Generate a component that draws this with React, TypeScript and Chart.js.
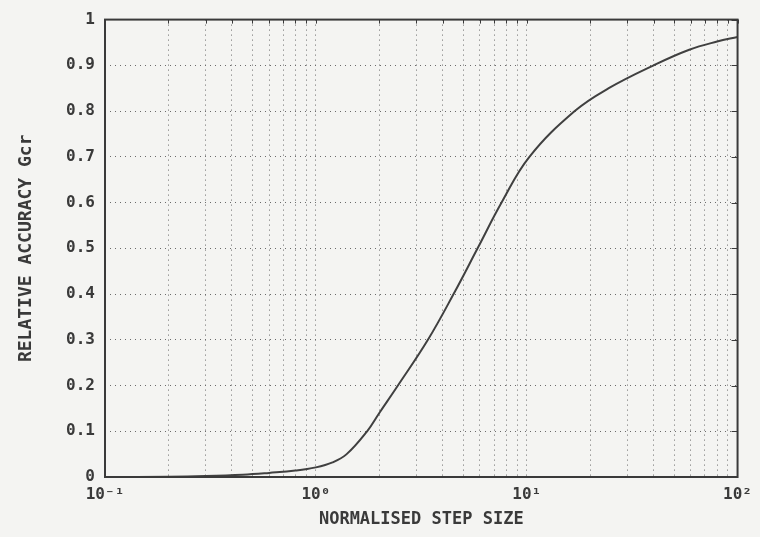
import React, { useEffect, useRef } from "react";
import { Chart, registerables } from "chart.js";

Chart.register(...registerables);

// Normalised step size (log axis) and the relative accuracy reached there
const stepSizes = [0.1, 0.2, 0.3, 0.45, 0.6, 0.8, 1.0, 1.2, 1.4, 1.75, 2.0, 2.45, 3.4, 4.5, 5.85, 7.6, 10.3, 16.9, 24.5, 40.0, 59.0, 80.0, 100.0];
const accuracy = [0.0, 0.0005, 0.002, 0.005, 0.009, 0.014, 0.021, 0.032, 0.05, 0.1, 0.14, 0.2, 0.3, 0.4, 0.5, 0.6, 0.7, 0.8, 0.85, 0.9, 0.934, 0.952, 0.962];

// Axis ticks
const decadeValues = [0.1, 1, 10, 100];
const decadeLabels = ["10\u207B\u00B9", "10\u2070", "10\u00B9", "10\u00B2"];
const minorMultiples = [1, 2, 3, 4, 5, 6, 7, 8, 9];
const yTickLabels = ["0", "0.1", "0.2", "0.3", "0.4", "0.5", "0.6", "0.7", "0.8", "0.9", "1"];

const INK = "#3a3a3a";
const GRID = "#6a6a6a";
const FONT = "'DejaVu Sans Mono', monospace";

const xGridValues: number[] = [];
decadeValues.forEach((d, i) => {
  if (i === decadeValues.length - 1) {
    xGridValues.push(d);
  } else {
    minorMultiples.forEach((m) => xGridValues.push(+(d * m).toPrecision(6)));
  }
});

const frame = {
  id: "frame",
  afterDraw(chart: any) {
    const { ctx, chartArea } = chart;
    const xs = chart.scales.x;
    const ys = chart.scales.y;
    ctx.save();
    ctx.strokeStyle = INK;
    ctx.lineWidth = 1;
    // small inward ticks along the top and right edges
    xGridValues.forEach((v) => {
      const px = Math.round(xs.getPixelForValue(v)) + 0.5;
      ctx.beginPath();
      ctx.moveTo(px, chartArea.top);
      ctx.lineTo(px, chartArea.top + 4);
      ctx.stroke();
    });
    yTickLabels.forEach((_, i) => {
      const py = Math.round(ys.getPixelForValue(i / 10)) + 0.5;
      ctx.beginPath();
      ctx.moveTo(chartArea.right, py);
      ctx.lineTo(chartArea.right - 6, py);
      ctx.stroke();
    });
    ctx.lineWidth = 2;
    ctx.strokeRect(chartArea.left, chartArea.top, chartArea.right - chartArea.left, chartArea.bottom - chartArea.top);
    ctx.restore();
  },
};

export default function App() {
  const ref = useRef<HTMLCanvasElement | null>(null);

  useEffect(() => {
    if (!ref.current) return;
    const chart = new Chart(ref.current, {
      type: "line",
      data: {
        datasets: [
          {
            data: stepSizes.map((x, i) => ({ x, y: accuracy[i] })),
            borderColor: "#404040",
            borderWidth: 2,
            pointRadius: 0,
            tension: 0.4,
            fill: false,
          },
        ],
      },
      options: {
        responsive: false,
        animation: false,
        layout: { padding: { left: 0, right: 20, top: 11, bottom: 0 } },
        plugins: { legend: { display: false }, tooltip: { enabled: false } },
        scales: {
          x: {
            type: "logarithmic",
            min: 0.1,
            max: 100,
            afterBuildTicks: (scale: any) => {
              scale.ticks = xGridValues.map((value) => ({ value }));
            },
            afterFit: (scale: any) => {
              scale.height = 60;
            },
            ticks: {
              autoSkip: false,
              maxRotation: 0,
              padding: 8,
              color: INK,
              font: { family: FONT, size: 16, weight: "bold" },
              callback: (value: any) => {
                const idx = decadeValues.findIndex((d) => Math.abs(d - Number(value)) < d * 1e-6);
                return idx >= 0 ? decadeLabels[idx] : "";
              },
            },
            grid: {
              color: GRID,
              lineWidth: 1,
              drawTicks: false,
            },
            border: { display: false, dash: [1, 4] },
            title: {
              display: true,
              text: "NORMALISED STEP SIZE",
              color: INK,
              font: { family: FONT, size: 17, weight: "bold" },
              padding: { top: 0, bottom: 7 },
            },
          },
          y: {
            min: 0,
            max: 1,
            afterFit: (scale: any) => {
              scale.width = 105;
            },
            ticks: {
              stepSize: 0.1,
              padding: 10,
              color: INK,
              font: { family: FONT, size: 16, weight: "bold" },
              callback: (_value: any, index: number) => yTickLabels[index],
            },
            grid: {
              color: GRID,
              lineWidth: 1,
              drawTicks: false,
            },
            border: { display: false, dash: [1, 4] },
            title: {
              display: true,
              text: "RELATIVE ACCURACY Gcr",
              color: INK,
              font: { family: FONT, size: 18, weight: "bold" },
              padding: { top: 16, bottom: 0 },
            },
          },
        },
      },
      plugins: [frame],
    } as any);
    return () => chart.destroy();
  }, []);

  return (
    <div style={{ position: "fixed", left: 0, top: 0, width: 760, height: 537, background: "#f4f4f2" }}>
      <canvas ref={ref} width={760} height={537} />
    </div>
  );
}
